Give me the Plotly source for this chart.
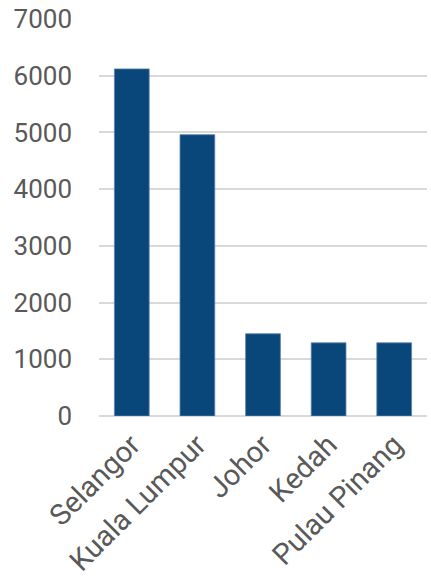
import plotly.graph_objects as go

states = ["Selangor", "Kuala Lumpur", "Johor", "Kedah", "Pulau Pinang"]
values = [6120, 4960, 1450, 1290, 1290]
y_ticks = [0, 1000, 2000, 3000, 4000, 5000, 6000, 7000]

fig = go.Figure(go.Bar(
    x=states, y=values,
    marker=dict(color="#09477b", line=dict(color="#5b82a8", width=0.8)),
    width=0.53,
))
yfont = dict(family="Roboto", size=26, color="#595959")
xfont = dict(family="Roboto", size=29, color="#595959")
fig.update_layout(
    width=431, height=581,
    margin=dict(l=99, r=4, t=19, b=165),
    plot_bgcolor="white", paper_bgcolor="white",
    showlegend=False,
)
fig.update_yaxes(
    range=[0, 7000], tickvals=y_ticks, showgrid=True,
    gridcolor="#d9d9d9", gridwidth=1.5, zeroline=True,
    zerolinecolor="#d9d9d9", zerolinewidth=1.5,
    ticklabelstandoff=26, tickfont=yfont, showline=False,
)
fig.update_xaxes(
    tickangle=-45, tickfont=xfont, showline=False, showgrid=False,
    ticklabelstandoff=5,
)
fig.write_html("out.html")
